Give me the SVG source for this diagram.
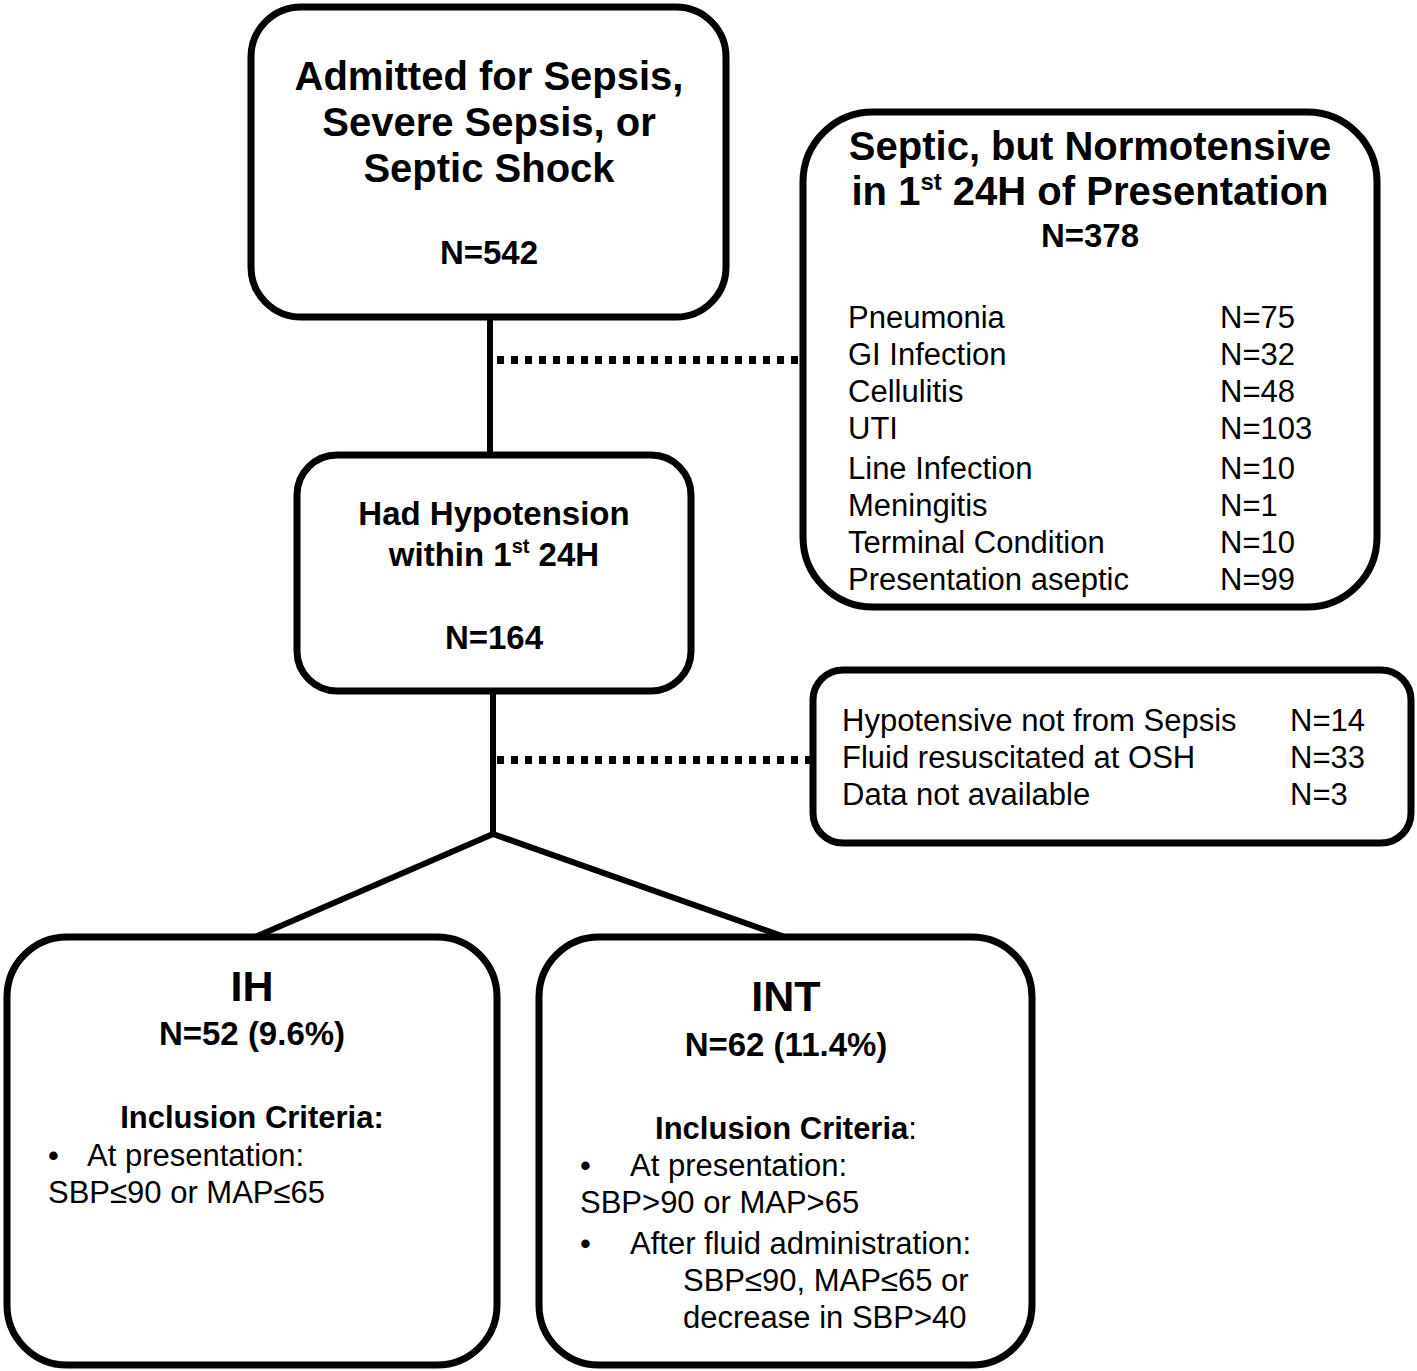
<svg xmlns="http://www.w3.org/2000/svg" width="1417" height="1371" viewBox="0 0 1417 1371">
<style>
.box{fill:#fff;stroke:#000;stroke-width:7}
.ln{stroke:#000;stroke-width:6;fill:none}
.dot{stroke:#000;stroke-width:8;stroke-dasharray:7 7;fill:none}
text{font-family:"Liberation Sans",Arial,sans-serif;fill:#000}
.b{font-weight:bold}
.c{text-anchor:middle}
.r{font-size:31px}
</style>
<rect width="1417" height="1371" fill="#fff"/>
<g id="connectors">
<line class="ln" x1="490" y1="317" x2="490" y2="455"/>
<line class="ln" x1="493" y1="691" x2="493" y2="836"/>
<line class="ln" x1="493" y1="834" x2="255" y2="937"/>
<line class="ln" x1="493" y1="834" x2="785" y2="937"/>
<line class="dot" x1="497" y1="360" x2="800" y2="360"/>
<line class="dot" x1="497" y1="760" x2="812" y2="760"/>
</g>
<g id="admitted">
<rect class="box" x="251" y="7" width="475" height="310" rx="50"/>
<text class="b c" x="489" y="90" font-size="40">Admitted for Sepsis,</text>
<text class="b c" x="489" y="136" font-size="40">Severe Sepsis, or</text>
<text class="b c" x="489" y="182" font-size="40">Septic Shock</text>
<text class="b c" x="489" y="264" font-size="33">N=542</text>
</g>
<g id="normotensive">
<rect class="box" x="803" y="112" width="574" height="495" rx="70"/>
<text class="b c" x="1090" y="160" font-size="40">Septic, but Normotensive</text>
<text class="b c" x="1090" y="205" font-size="40">in 1<tspan font-size="24" dy="-15">st</tspan><tspan dy="15"> 24H of Presentation</tspan></text>
<text class="b c" x="1090" y="247" font-size="33">N=378</text>
<text class="r" x="848" y="328">Pneumonia</text><text class="r" x="1220" y="328">N=75</text>
<text class="r" x="848" y="365">GI Infection</text><text class="r" x="1220" y="365">N=32</text>
<text class="r" x="848" y="402">Cellulitis</text><text class="r" x="1220" y="402">N=48</text>
<text class="r" x="848" y="439">UTI</text><text class="r" x="1220" y="439">N=103</text>
<text class="r" x="848" y="479">Line Infection</text><text class="r" x="1220" y="479">N=10</text>
<text class="r" x="848" y="516">Meningitis</text><text class="r" x="1220" y="516">N=1</text>
<text class="r" x="848" y="553">Terminal Condition</text><text class="r" x="1220" y="553">N=10</text>
<text class="r" x="848" y="590">Presentation aseptic</text><text class="r" x="1220" y="590">N=99</text>
</g>
<g id="hypotension">
<rect class="box" x="297" y="455" width="394" height="236" rx="40"/>
<text class="b c" x="494" y="525" font-size="33">Had Hypotension</text>
<text class="b c" x="494" y="566" font-size="33">within 1<tspan font-size="20" dy="-13">st</tspan><tspan dy="13"> 24H</tspan></text>
<text class="b c" x="494" y="649" font-size="33">N=164</text>
</g>
<g id="excluded">
<rect class="box" x="813" y="670" width="598" height="173" rx="30"/>
<text class="r" x="842" y="731">Hypotensive not from Sepsis</text><text class="r" x="1290" y="731">N=14</text>
<text class="r" x="842" y="768">Fluid resuscitated at OSH</text><text class="r" x="1290" y="768">N=33</text>
<text class="r" x="842" y="805">Data not available</text><text class="r" x="1290" y="805">N=3</text>
</g>
<g id="ih">
<rect class="box" x="7" y="937" width="490" height="428" rx="60"/>
<text class="b c" x="252" y="1001" font-size="43">IH</text>
<text class="b c" x="252" y="1045" font-size="33">N=52 (9.6%)</text>
<text class="b c" x="252" y="1128" font-size="31">Inclusion Criteria:</text>
<text class="r" x="48" y="1166">•</text><text class="r" x="87" y="1166">At presentation:</text>
<text class="r" x="48" y="1203">SBP≤90 or MAP≤65</text>
</g>
<g id="int">
<rect class="box" x="539" y="937" width="493" height="428" rx="60"/>
<text class="b c" x="786" y="1011" font-size="43">INT</text>
<text class="b c" x="786" y="1056" font-size="33">N=62 (11.4%)</text>
<text class="c" x="786" y="1139" font-size="31"><tspan class="b">Inclusion Criteria</tspan>:</text>
<text class="r" x="580" y="1176">•</text><text class="r" x="630" y="1176">At presentation:</text>
<text class="r" x="580" y="1213">SBP&gt;90 or MAP&gt;65</text>
<text class="r" x="580" y="1254">•</text><text class="r" x="630" y="1254">After fluid administration:</text>
<text class="r" x="683" y="1291">SBP≤90, MAP≤65 or</text>
<text class="r" x="683" y="1328">decrease in SBP&gt;40</text>
</g>
</svg>
